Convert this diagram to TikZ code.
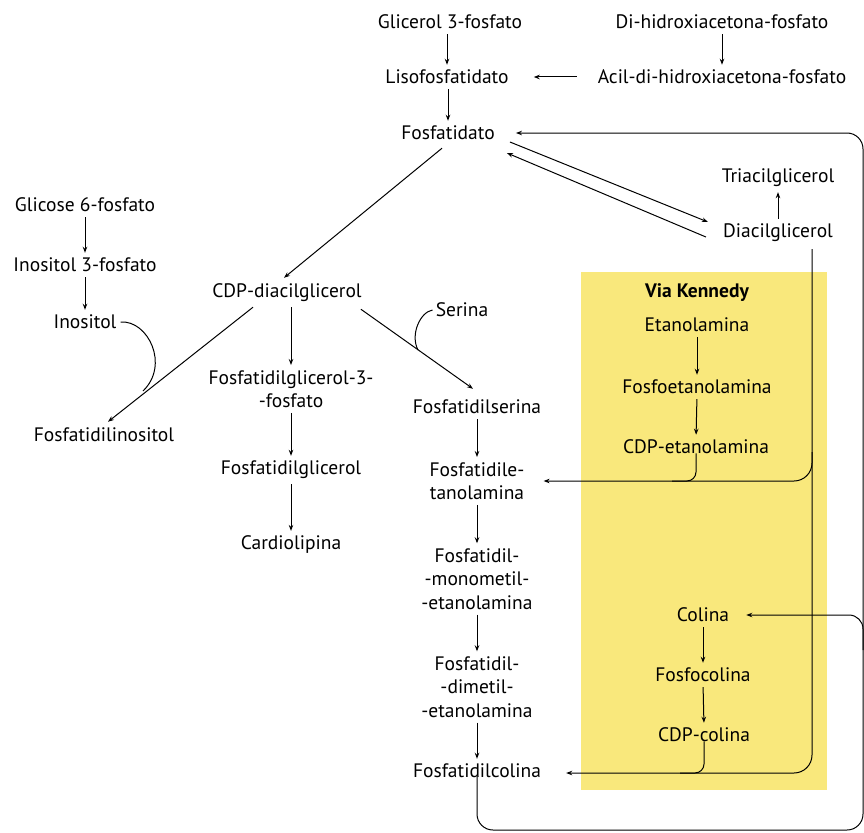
\documentclass[tikz,border=0pt]{standalone}
\usepackage{fontspec}
\setmainfont{PT Sans}
\usetikzlibrary{arrows.meta}
\definecolor{kyellow}{RGB}{249,232,124}
\begin{document}
\begin{tikzpicture}[x=1pt,y=-1pt,
  lbl/.style={font=\fontsize{19.5}{23.5}\selectfont, inner sep=1pt, align=center},
  bold/.style={lbl, font=\fontsize{19.5}{23.5}\selectfont\bfseries},
  line/.style={line width=1pt},
  conn/.style={line, -{Stealth[length=6pt,width=4.5pt]}},
  varr/.style={conn, shorten <=4pt, shorten >=4pt}]
\useasboundingbox (0,0) rectangle (864,832);
\fill[kyellow] (581,272) rectangle (827,790);
% nodes
\node[lbl] (g3p) at (450,22) {Glicerol 3-fosfato};
\node[lbl] (dhap) at (722,22) {Di-hidroxiacetona-fosfato};
\node[lbl] (liso) at (447,77) {Lisofosfatidato};
\node[lbl] (acil) at (722,77) {Acil-di-hidroxiacetona-fosfato};
\node[lbl] (pa) at (448,133) {Fosfatidato};
\node[lbl] (tag) at (778,178) {Triacilglicerol};
\node[lbl] (dag) at (778,233) {Diacilglicerol};
\node[lbl] (g6p) at (85,205) {Glicose 6-fosfato};
\node[lbl] (i3p) at (85,265) {Inositol 3-fosfato};
\node[lbl] (ino) at (85,322) {Inositol};
\node[lbl] (pi) at (104,435) {Fosfatidilinositol};
\node[lbl] (cdpdag) at (287,293) {CDP-diacilglicerol};
\node[lbl] (pgp) at (291,389) {Fosfatidilglicerol-3-\\-fosfato};
\node[lbl] (pg) at (291,470) {Fosfatidilglicerol};
\node[lbl] (cl) at (291,545) {Cardiolipina};
\node[lbl] (ser) at (462,310) {Serina};
\node[lbl] (ps) at (477,407) {Fosfatidilserina};
\node[lbl] (pe) at (477,481) {Fosfatidile-\\tanolamina};
\node[lbl] (pmme) at (477,579) {Fosfatidil-\\-monometil-\\-etanolamina};
\node[lbl] (pdme) at (477,687) {Fosfatidil-\\-dimetil-\\-etanolamina};
\node[lbl] (pc) at (477,771) {Fosfatidilcolina};
\node[bold] (vk) at (697,293) {Via Kennedy};
\node[lbl] (eta) at (697,325) {Etanolamina};
\node[lbl] (peta) at (697,387) {Fosfoetanolamina};
\node[lbl] (cdpeta) at (696,447) {CDP-etanolamina};
\node[lbl] (col) at (703,615) {Colina};
\node[lbl] (pcol) at (703,675) {Fosfocolina};
\node[lbl] (cdpcol) at (704,735) {CDP-colina};
% corner coordinates
\coordinate (dagdown) at (812,249);
\coordinate (dagturn) at (812,773);
\coordinate (loopBL) at (477,830);
\coordinate (loopBR) at (863,830);
\coordinate (loopTR) at (863,133);
\coordinate (pebranch) at (812,452);
\coordinate (colbranch) at (863,650);
% straight chains
\draw[varr] (liso.north |- g3p.south) -- (liso.north);
\draw[varr] (dhap.south) -- (acil.north);
\draw[conn, shorten <=20pt, shorten >=24pt] (acil.west) -- (liso.east);
\draw[varr] (liso.south -| pa.north) -- (pa.north);
\draw[varr] (tag.south |- dag.north) -- (tag.south);
\draw[conn] ([shift={(14,9)}]pa.east) -- ([shift={(-14,-11)}]dag.west);
\draw[conn] ([shift={(-16,4)}]dag.west) -- ([shift={(11,20)}]pa.east);
\draw[conn] ([shift={(-6,7)}]pa.south) -- ([shift={(-3,-5)}]cdpdag.north);
\draw[varr] (g6p.south) -- (i3p.north);
\draw[varr] (i3p.south) -- (i3p.south |- ino.north);
\draw[conn] ([shift={(-34,4)}]cdpdag.south) -- ([shift={(4,-5)}]pi.north);
\draw[line] ([xshift=3pt]ino.east) .. controls (148,320) and (170,365) .. (143,391);
\draw[varr] (cdpdag.south -| pgp.north) -- (pgp.north);
\draw[varr] (pgp.south) -- (pg.north);
\draw[varr] (pg.south) -- (cl.north);
\draw[conn] ([shift={(-2,6)}]cdpdag.south east) -- ([shift={(-4,-10)}]ps.north);
\draw[line] ([xshift=-2pt]ser.west) .. controls (420,312) and (410,335) .. (418,350);
\draw[varr] (ps.south) -- (pe.north);
\draw[varr] (pe.south) -- (pmme.north);
\draw[varr] (pmme.south) -- (pdme.north);
\draw[varr] (pdme.south) -- (pc.north);
\draw[varr] (eta.south) -- (peta.north);
\draw[varr] (peta.south) -- (cdpeta.north);
\draw[varr] (col.south) -- (pcol.north);
\draw[varr] (pcol.south) -- (cdpcol.north);
% Kennedy outputs
\draw[conn, rounded corners=18pt] (dagdown) -- (dagturn) -- ([xshift=24pt]pc.east |- dagturn);
\draw[conn, rounded corners=18pt] (pebranch) |- ([xshift=18pt]pe.east);
\draw[line, rounded corners=9pt] ([yshift=2pt]cdpeta.south) |- ([xshift=-24pt]cdpeta.south |- pe.east);
\draw[line, rounded corners=9pt] ([yshift=2pt]cdpcol.south) |- ([xshift=-24pt]cdpcol.south |- dagturn);
% big loop
\draw[conn, rounded corners=16pt] ([yshift=3pt]pc.south) -- (loopBL) -- (loopBR) -- (loopTR) -- ([xshift=20pt]pa.east);
\draw[conn, rounded corners=14pt] (colbranch) |- ([xshift=16pt]col.east);
\end{tikzpicture}
\end{document}
